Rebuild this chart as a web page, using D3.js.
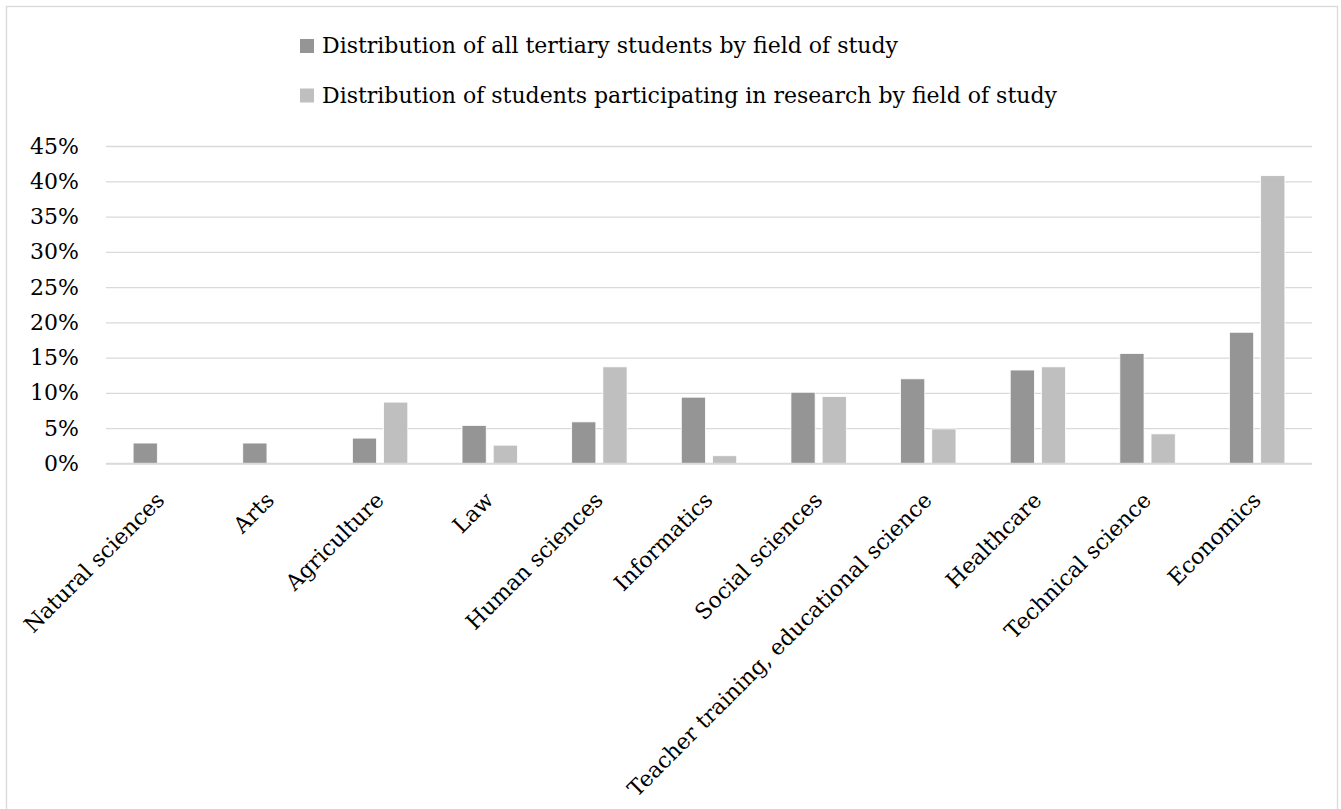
<!DOCTYPE html>
<html>
<head>
<meta charset="utf-8">
<script src="https://cdn.jsdelivr.net/npm/d3@7"></script>
<style>
  html, body { margin: 0; padding: 0; background: #fff; }
  svg { display: block; }
  text { font-family: "DejaVu Serif", "Liberation Serif", serif; fill: #000; }
</style>
</head>
<body>
<svg id="chart" width="1341" height="809"></svg>
<script>
// Fields of study, ordered by share of all tertiary students
const categories = [
  "Natural sciences", "Arts", "Agriculture", "Law", "Human sciences",
  "Informatics", "Social sciences", "Teacher training, educational science",
  "Healthcare", "Technical science", "Economics"
];
const seriesNames = [
  "Distribution of all tertiary students by field of study",
  "Distribution of students participating in research by field of study"
];
// Percent values
const allStudents = [2.9, 2.9, 3.6, 5.4, 5.9, 9.4, 10.1, 12.0, 13.25, 15.6, 18.6];
const researchStudents = [0, 0, 8.7, 2.6, 13.7, 1.1, 9.5, 4.9, 13.7, 4.2, 40.8];
const yTicks = [0, 5, 10, 15, 20, 25, 30, 35, 40, 45];
const colors = ["#959595", "#bfbfbf"];

const FONT = '"DejaVu Serif", "Liberation Serif", serif';
const FS = 22;

const svg = d3.select("#chart");

// chart frame
svg.append("rect")
  .attr("x", 6.5).attr("y", 6.5)
  .attr("width", 1331).attr("height", 810)
  .attr("fill", "#fff").attr("stroke", "#d9d9d9").attr("stroke-width", 1.3);

const plot = { left: 106, right: 1312, top: 146, bottom: 463.5 };

const x0 = d3.scaleBand().domain(categories).range([plot.left, plot.right]).padding(0);
const groupW = 55.4;
const x1 = d3.scaleBand().domain([0, 1])
  .range([x0.bandwidth() / 2 - groupW / 2, x0.bandwidth() / 2 + groupW / 2])
  .paddingInner(0.224).paddingOuter(0);
const y = d3.scaleLinear().domain([0, 45]).range([plot.bottom, plot.top]);

// gridlines and value labels
const yAxis = d3.axisLeft(y).tickValues(yTicks)
  .tickSize(-(plot.right - plot.left)).tickPadding(27)
  .tickFormat(d => d + "%");
const gy = svg.append("g").attr("transform", `translate(${plot.left},0)`).call(yAxis);
gy.select(".domain").remove();
gy.selectAll(".tick line").attr("stroke", "#d9d9d9").attr("stroke-width", 1.3);
gy.selectAll(".tick text")
  .style("font-family", FONT)
  .attr("font-size", FS).attr("fill", "#000");

// bars
const rows = categories.map((c, i) => ({ cat: c, vals: [allStudents[i], researchStudents[i]] }));
const groups = svg.append("g").selectAll("g").data(rows).join("g")
  .attr("transform", d => `translate(${x0(d.cat)},0)`);
groups.selectAll("rect")
  .data(d => d.vals.map((v, k) => ({ k, v })).filter(e => e.v > 0))
  .join("rect")
  .attr("x", e => x1(e.k))
  .attr("width", x1.bandwidth())
  .attr("y", e => y(e.v))
  .attr("height", e => y(0) - y(e.v))
  .attr("fill", e => colors[e.k])
  .attr("stroke", "#fff").attr("stroke-width", 0.8);

// baseline
svg.append("line")
  .attr("x1", plot.left).attr("x2", plot.right)
  .attr("y1", y(0)).attr("y2", y(0))
  .attr("stroke", "#d9d9d9").attr("stroke-width", 1.3);

// category labels, rotated
const xAxis = d3.axisBottom(x0).tickSize(0).tickPadding(0);
const gx = svg.append("g").attr("transform", `translate(0,${plot.bottom})`).call(xAxis);
gx.select(".domain").remove();
gx.selectAll(".tick text")
  .style("font-family", FONT)
  .attr("font-size", FS).attr("fill", "#000")
  .attr("text-anchor", "end")
  .attr("dy", null).attr("y", null)
  .attr("transform", "translate(5,38) rotate(-45)");

// legend
const legend = svg.append("g");
seriesNames.forEach((name, i) => {
  const ly = 53 + i * 49.5;
  legend.append("rect")
    .attr("x", 300).attr("y", ly - 14).attr("width", 14).attr("height", 14)
    .attr("fill", colors[i]);
  legend.append("text")
    .attr("x", 322).attr("y", ly)
    .attr("font-size", FS)
    .text(name);
});
</script>
</body>
</html>
